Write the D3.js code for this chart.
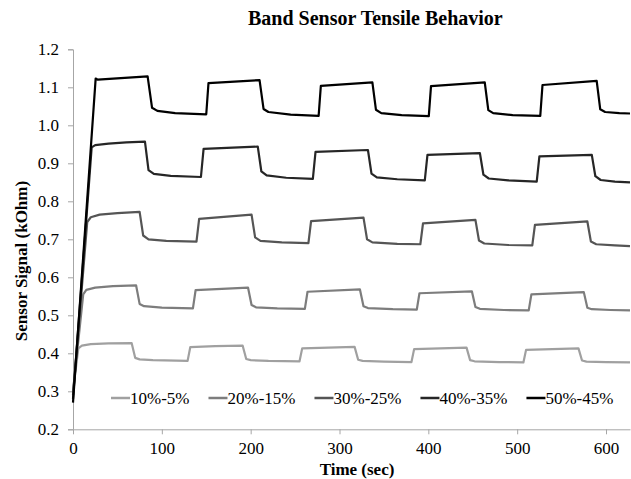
<!DOCTYPE html>
<html>
<head>
<meta charset="utf-8">
<script src="https://cdn.jsdelivr.net/npm/d3@7"></script>
<style>
  html, body { margin: 0; padding: 0; background: #fff; }
  svg { display: block; }
</style>
</head>
<body>
<svg id="chart" width="631" height="479"></svg>
<script>
// Sensor signal (kOhm) against time (sec) for five stretch ranges
const seriesNames = ["10%-5%", "20%-15%", "30%-25%", "40%-35%", "50%-45%"];
const seriesColors = ["#a0a0a0", "#7d7d7d", "#555555", "#262626", "#000000"];

const series10 = [
  [0, 0.300], [6, 0.413], [10, 0.420], [20, 0.424], [40, 0.426], [66, 0.427],
  [70, 0.388], [75, 0.384], [90, 0.382], [129, 0.380],
  [132, 0.416], [160, 0.419], [191, 0.420],
  [195, 0.385], [200, 0.382], [220, 0.380], [255, 0.379],
  [258, 0.413], [317, 0.417],
  [321, 0.383], [326, 0.380], [350, 0.378], [381, 0.377],
  [384, 0.411], [443, 0.415],
  [447, 0.382], [452, 0.379], [480, 0.377], [507, 0.376],
  [510, 0.409], [569, 0.413],
  [573, 0.381], [578, 0.378], [600, 0.377], [627, 0.376]
];
const series20 = [
  [0, 0.300], [11.5, 0.555], [15, 0.567], [25, 0.573], [45, 0.577], [71, 0.579],
  [75, 0.530], [80, 0.524], [100, 0.520], [135, 0.518],
  [138, 0.566], [197, 0.573],
  [201, 0.527], [206, 0.521], [230, 0.518], [261, 0.517],
  [264, 0.562], [323, 0.568],
  [327, 0.524], [332, 0.519], [360, 0.516], [387, 0.515],
  [390, 0.558], [449, 0.563],
  [453, 0.522], [458, 0.517], [485, 0.514], [513, 0.513],
  [516, 0.555], [575, 0.561],
  [579, 0.520], [584, 0.516], [605, 0.514], [627, 0.513]
];
const series30 = [
  [0, 0.290], [16, 0.745], [20, 0.758], [30, 0.765], [50, 0.769], [75, 0.772],
  [79, 0.710], [85, 0.700], [105, 0.696], [139, 0.694],
  [142, 0.754], [201, 0.765],
  [205, 0.705], [211, 0.696], [235, 0.692], [265, 0.690],
  [268, 0.748], [327, 0.757],
  [331, 0.700], [337, 0.692], [365, 0.688], [391, 0.687],
  [394, 0.742], [453, 0.751],
  [457, 0.697], [463, 0.689], [490, 0.685], [517, 0.684],
  [520, 0.738], [579, 0.747],
  [583, 0.694], [589, 0.687], [610, 0.684], [627, 0.682]
];
const series40 = [
  [0, 0.280], [21, 0.942], [25, 0.948], [40, 0.952], [60, 0.955], [81, 0.957],
  [85, 0.882], [91, 0.872], [110, 0.867], [144, 0.864],
  [147, 0.938], [208, 0.944],
  [212, 0.879], [218, 0.868], [240, 0.862], [270, 0.859],
  [273, 0.930], [332, 0.935],
  [336, 0.873], [342, 0.863], [365, 0.858], [396, 0.855],
  [399, 0.922], [458, 0.927],
  [462, 0.870], [468, 0.860], [490, 0.855], [522, 0.852],
  [525, 0.918], [584, 0.922],
  [588, 0.866], [594, 0.856], [610, 0.852], [627, 0.850]
];
const series50 = [
  [0, 0.270], [25.5, 1.123], [28, 1.120], [84, 1.129],
  [89, 1.046], [95, 1.038], [115, 1.032], [150, 1.029],
  [152.5, 1.111], [210, 1.119],
  [214.5, 1.043], [220, 1.035], [245, 1.028], [276.5, 1.025],
  [279, 1.104], [337, 1.113],
  [341, 1.041], [347, 1.032], [370, 1.027], [400.5, 1.024],
  [403, 1.103], [463.5, 1.113],
  [467.5, 1.040], [473, 1.032], [495, 1.027], [526, 1.025],
  [528.5, 1.106], [589.5, 1.117],
  [593.5, 1.042], [599, 1.035], [615, 1.032], [627, 1.031]
];
const allSeries = [series10, series20, series30, series40, series50];

const xTicks = [0, 100, 200, 300, 400, 500, 600];
const yTicks = [0.2, 0.3, 0.4, 0.5, 0.6, 0.7, 0.8, 0.9, 1.0, 1.1, 1.2];

const FONT = "Liberation Serif";
const svg = d3.select("#chart");
const axisColor = "#a6a6a6";

const x = d3.scaleLinear().domain([0, 627]).range([73, 630]);
const y = d3.scaleLinear().domain([0.2, 1.2]).range([429.3, 49.3]);

function styleText(sel, size, bold) {
  return sel.style("font-family", FONT)
    .style("font-size", size + "px")
    .style("font-weight", bold ? "bold" : "normal")
    .attr("fill", "#000");
}

// Title
styleText(svg.append("text")
  .attr("x", 248).attr("y", 25)
  .attr("text-anchor", "start")
  .text("Band Sensor Tensile Behavior"), 20, true);

// Y axis
const yAxis = svg.append("g")
  .attr("transform", `translate(${x(0)},0)`)
  .call(d3.axisLeft(y).tickValues(yTicks).tickFormat(d3.format(".1f")).tickSize(5).tickPadding(9));
yAxis.select(".domain").attr("stroke", axisColor);
yAxis.selectAll(".tick line").attr("stroke", axisColor);
styleText(yAxis.selectAll(".tick text"), 17, false);

// X axis
const xAxis = svg.append("g")
  .attr("transform", `translate(0,${y(0.2)})`)
  .call(d3.axisBottom(x).tickValues(xTicks).tickFormat(d3.format("d")).tickSize(5).tickSizeOuter(0).tickPadding(8));
xAxis.select(".domain").attr("stroke", axisColor);
xAxis.selectAll(".tick line").attr("stroke", axisColor);
styleText(xAxis.selectAll(".tick text"), 17, false);

// Axis titles
styleText(svg.append("text")
  .attr("x", 357).attr("y", 475)
  .attr("text-anchor", "middle")
  .text("Time (sec)"), 17, true);

styleText(svg.append("text")
  .attr("transform", "translate(27,261) rotate(-90)")
  .attr("text-anchor", "middle")
  .text("Sensor Signal (kOhm)"), 17, true);

// Series lines
const line = d3.line()
  .x(d => x(d[0]))
  .y(d => y(d[1]));

svg.append("g").selectAll("path")
  .data(allSeries)
  .join("path")
  .attr("d", line)
  .attr("fill", "none")
  .attr("stroke", (d, i) => seriesColors[i])
  .attr("stroke-width", 2.2)
  .attr("stroke-linejoin", "round");

// Legend
const legend = svg.append("g");
let lx = 111;
const ly = 398;
seriesNames.forEach((name, i) => {
  legend.append("line")
    .attr("x1", lx).attr("x2", lx + 19)
    .attr("y1", ly).attr("y2", ly)
    .attr("stroke", seriesColors[i]).attr("stroke-width", 2.5);
  const t = styleText(legend.append("text")
    .attr("x", lx + 19).attr("y", ly + 6)
    .text(name), 17, false);
  lx += 19 + t.node().getComputedTextLength() + 19;
});
</script>
</body>
</html>
